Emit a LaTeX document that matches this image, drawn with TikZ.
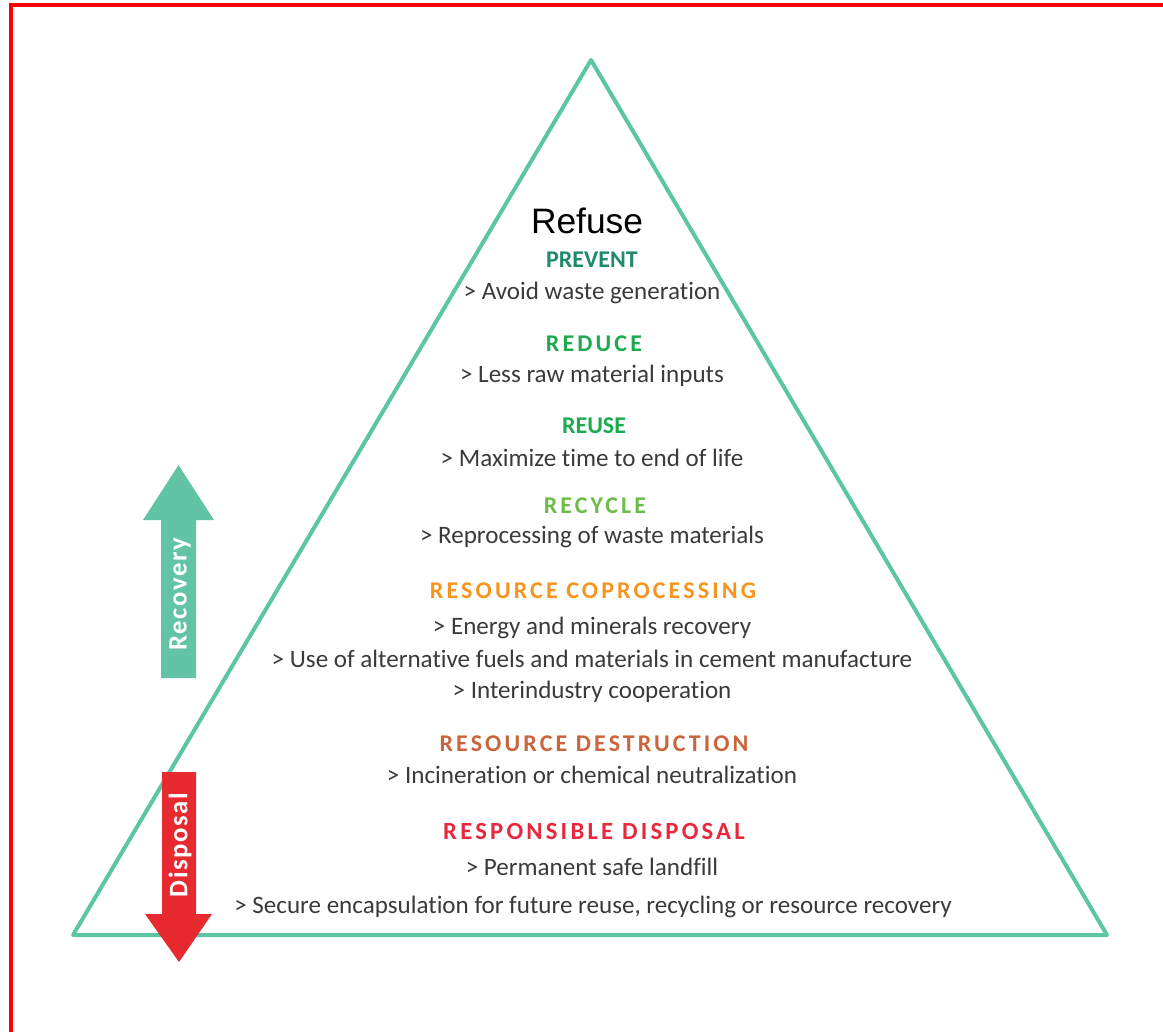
\documentclass[tikz,border=0pt]{standalone}
\usepackage{fontspec}
\setmainfont{Carlito}[Ligatures=NoCommon]
\newfontfamily\refusefont{Liberation Sans}
\newfontfamily\spacedfont[LetterSpace=13,Ligatures=NoCommon]{Carlito}
\newfontfamily\sidefont[LetterSpace=6,Ligatures=NoCommon]{Carlito}

\definecolor{pyramid}{HTML}{5CC5A2}
\definecolor{recov}{HTML}{62C3A5}
\definecolor{disp}{HTML}{E62A30}
\definecolor{bodytxt}{HTML}{3A3A3A}
\definecolor{preventc}{HTML}{21896B}
\definecolor{reducec}{HTML}{1DAA4F}
\definecolor{recyclec}{HTML}{6CBC4A}
\definecolor{coprocc}{HTML}{F7941E}
\definecolor{destrc}{HTML}{C9643C}
\definecolor{disposc}{HTML}{E8283C}

\begin{document}
\begin{tikzpicture}[x=0.75pt,y=-0.75pt,
  heading/.style={anchor=base,font=\fontsize{18}{20}\selectfont\bfseries\spacedfont},
  body/.style={anchor=base,text=bodytxt,font=\fontsize{18.8}{22}\selectfont},
  sidetxt/.style={text=white,rotate=90,font=\fontsize{20}{22}\selectfont\bfseries\sidefont}]
\useasboundingbox (0,0) rectangle (1163,1032);
\draw[red,line width=2.3pt] (11,1032) -- (11,5) -- (1163,5);

% pyramid
\draw[pyramid,line width=3pt,line join=round]
  (591,60) -- (1107,935) -- (73,935) -- cycle;

% side arrows
\fill[recov] (161,678) -- (161,520) -- (143,520) -- (178.5,465)
  -- (214,520) -- (196,520) -- (196,678) -- cycle;
\node[sidetxt] (recovery) at (180,594) {Recovery};
\fill[disp] (162,772) -- (196,772) -- (196,914) -- (212,914)
  -- (179,962) -- (145,914) -- (162,914) -- cycle;
\node[sidetxt] (disposal) at (180,845) {Disposal};

% levels
\node[anchor=base,font=\refusefont\fontsize{26.5}{30}\selectfont] (refuse) at (587,233) {Refuse};
\node[heading,text=preventc,font=\fontsize{18}{20}\selectfont\bfseries] (prevent) at (592,267) {PREVENT};
\node[body] (prevent1) at (592,299) {> Avoid waste generation};
\node[heading,text=reducec] (reduce) at (594,351) {REDUCE};
\node[body] (reduce1) at (592,382) {> Less raw material inputs};
\node[heading,text=reducec,font=\fontsize{18}{20}\selectfont\bfseries] (reuse) at (594,433) {REUSE};
\node[body] (reuse1) at (592,466) {> Maximize time to end of life};
\node[heading,text=recyclec] (recycle) at (595,513) {RECYCLE};
\node[body] (recycle1) at (592,543) {> Reprocessing of waste materials};
\node[heading,text=coprocc] (coproc) at (593,598) {RESOURCE COPROCESSING};
\node[body] (coproc1) at (592,634) {> Energy and minerals recovery};
\node[body] (coproc2) at (592,667) {> Use of alternative fuels and materials in cement manufacture};
\node[body] (coproc3) at (592,698) {> Interindustry cooperation};
\node[heading,text=destrc] (destr) at (594,751) {RESOURCE DESTRUCTION};
\node[body] (destr1) at (592,783) {> Incineration or chemical neutralization};
\node[heading,text=disposc,font=\fontsize{18.5}{20}\selectfont\bfseries\spacedfont] (dispos) at (594,839) {RESPONSIBLE DISPOSAL};
\node[body] (dispos1) at (592,875) {> Permanent safe landfill};
\node[body] (dispos2) at (593,913) {> Secure encapsulation for future reuse, recycling or resource recovery};
\end{tikzpicture}
\end{document}
